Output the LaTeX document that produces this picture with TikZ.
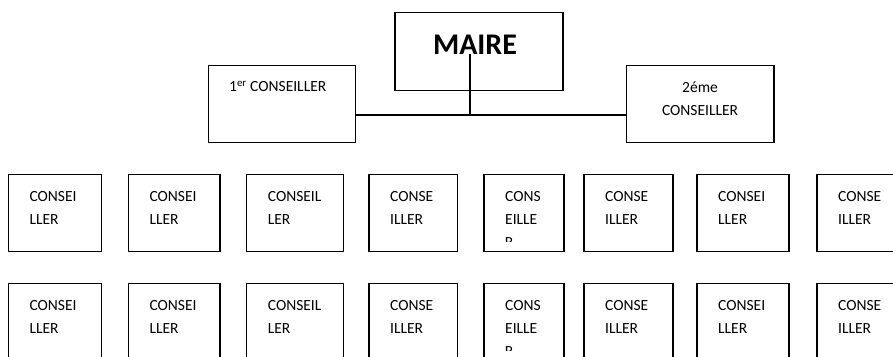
\documentclass[tikz,border=0pt]{standalone}
\usepackage{fontspec}
\setmainfont{Carlito}
\usetikzlibrary{calc}

\begin{document}
\begin{tikzpicture}[x=1pt,y=-1pt]
            \tikzset{box/.style = {draw, line width=1.3pt, inner sep=0pt, outer sep=0pt, minimum height=77pt}}
            \tikzset{lbl/.style = {inner sep=0pt, font=\fontsize{15.5}{18}\selectfont}}
            \tikzset{edge/.style = {-, line width=1.3pt}}
            \useasboundingbox (0,0) rectangle (893,356);
            \clip (0,0) rectangle (893,356);

            % top boxes
            \node[box, minimum width=168pt, minimum height=78pt] (maire) at (479,51.7) {};
            \node[box, minimum width=147.4pt] (c1) at (282,104.2) {};
            \node[box, minimum width=147.3pt] (c2) at (700.4,104.2) {};
            \node[inner sep=0pt, anchor=base, font=\fontsize{30}{36}\selectfont\bfseries] (tmaire) at (475,54) {MAIRE};
            \node[lbl, anchor=base west] (tc1) at (229,91.7) {1\textsuperscript{er} CONSEILLER};
            \node[lbl, anchor=base] (tc2a) at (700,92) {2éme};
            \node[lbl, anchor=base] (tc2b) at (700,115.7) {CONSEILLER};

            % conseillers
            \foreach \r in {0,1}
            {
              \foreach \x/\w/\a/\b [count=\i] in {8.3/93.4/CONSEI/LLER, 128.3/91.7/CONSEI/LLER, 246.7/96.6/CONSEIL/LER, 369/88.3/CONSE/ILLER, 484/80/CONS/EILLE, 584/89/CONSE/ILLER, 697/92/CONSEI/LLER, 817/89/CONSE/ILLER}
              {
                \node[box, minimum width=\w pt] (b\r-\i) at ({\x+\w/2},{213.3+109*\r}) {};
                \node[lbl, anchor=base west] (ta\r-\i) at ({\x+21},{201.7+109*\r}) {\a};
                \node[lbl, anchor=base west] (tb\r-\i) at ({\x+21},{224.3+109*\r}) {\b};
              }
              \begin{scope}
                \clip (484,{175+109*\r}) rectangle (564,{241.7+109*\r});
                \node[lbl, anchor=base west] (tr\r) at (504.7,{247+109*\r}) {R};
              \end{scope}
            }

            % edges
            \coordinate (jn) at (470,115);
            \draw[edge] (c1.east |- jn) to (c2.west |- jn);
            \draw[edge] (jn |- tmaire.base) to (jn);

\end{tikzpicture}
\end{document}
